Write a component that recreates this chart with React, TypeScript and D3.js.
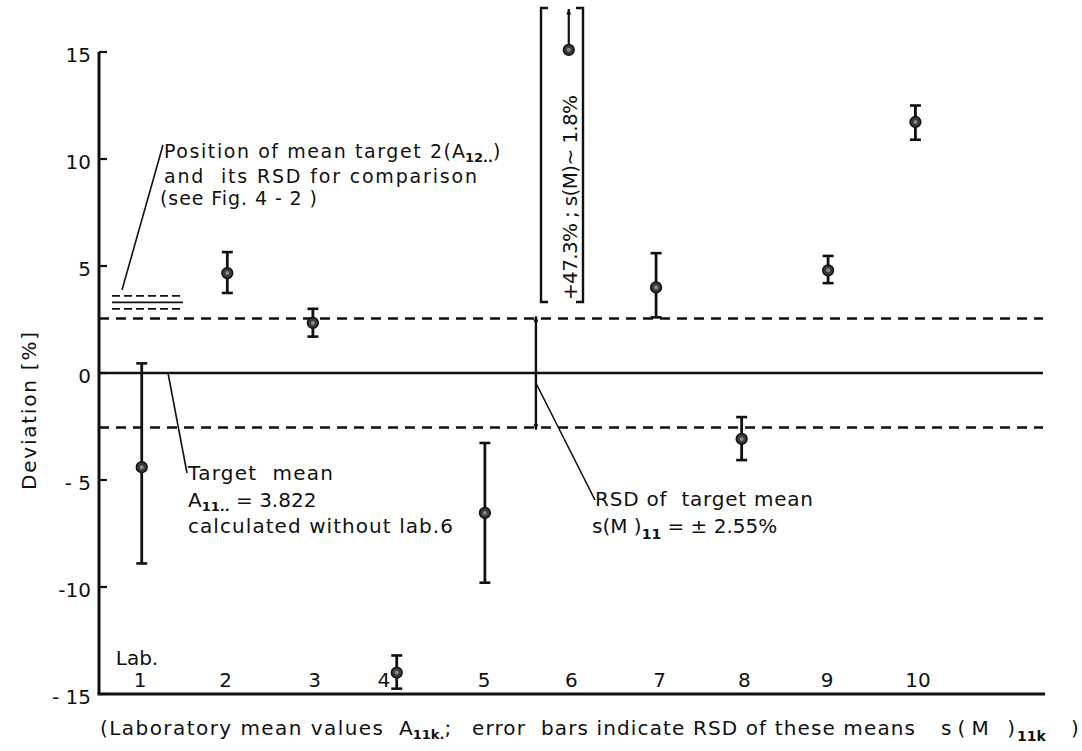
import React from "react";
import * as d3 from "d3";

// ---- data ----
const labNumbers = [1, 2, 3, 4, 5, 6, 7, 8, 9, 10];
const labLabelPos = [1, 1.99, 3.02, 3.82, 4.98, 5.99, 7.01, 7.99, 8.95, 10];
const pointLabs = [1, 2, 3, 4, 5, 7, 8, 9, 10];
const pointPos = [1.02, 2.01, 3.0, 3.97, 4.99, 6.97, 7.96, 8.96, 9.97];
const means = [-4.4, 4.67, 2.34, -14.0, -6.54, 4.0, -3.08, 4.8, 11.73];
const lows = [-8.9, 3.74, 1.7, -14.75, -9.8, 2.6, -4.07, 4.2, 10.9];
const highs = [0.45, 5.65, 3.0, -13.2, -3.27, 5.6, -2.06, 5.47, 12.5];
const yTicks = [15, 10, 5, 0, -5, -10, -15];
const yTickLabels = ["15", "10", "5", "0", "- 5", "-10", "- 15"];
const targetRSD = 2.55;
const target2Mean = 3.3;
const target2RSD = 0.3;
const lab6Pos = 5.58;
const lab6OutlierPos = 5.96;
const lab6OutlierShown = 15.1;

const W = 1082;
const H = 751;
const FONT = "'DejaVu Sans', Verdana, sans-serif";

export default function App() {
  const x = d3.scaleLinear().domain([1, 10]).range([140, 918]);
  const y = d3.scaleLinear().domain([-15, 15]).range([694, 52]);
  const x0 = 99;
  const axisRight = 1045;
  const lineRight = 1043;
  const ink = "#111";

  const pts = pointLabs.map((lab, i) => ({
    lab,
    px: x(pointPos[i]),
    m: y(means[i]),
    lo: y(lows[i]),
    hi: y(highs[i]),
  }));

  const l6 = x(lab6Pos);
  const ox = x(lab6OutlierPos);
  const oy = y(lab6OutlierShown);
  const sub = 13;

  return (
    <svg
      width={W}
      height={H}
      style={{ position: "absolute", left: 0, top: 0, background: "#fff" }}
      fontFamily={FONT}
    >
      <defs>
        <marker id="arrS" viewBox="0 0 10 10" refX="9" refY="5" markerWidth="11" markerHeight="6" orient="auto-start-reverse" markerUnits="userSpaceOnUse">
          <path d="M0,1 L10,5 L0,9 Z" fill={ink} />
        </marker>
      </defs>
      <rect x={0} y={0} width={W} height={H} fill="#fff" />

      {/* reference lines */}
      <line x1={x0} x2={lineRight} y1={y(0)} y2={y(0)} stroke={ink} strokeWidth={2.6} />
      <line x1={x0} x2={lineRight} y1={y(targetRSD)} y2={y(targetRSD)} stroke={ink} strokeWidth={2.6} strokeDasharray="10,7" />
      <line x1={x0} x2={lineRight} y1={y(-targetRSD)} y2={y(-targetRSD)} stroke={ink} strokeWidth={2.6} strokeDasharray="10,7" />

      {/* target 2 comparison lines */}
      <line x1={112} x2={183} y1={y(target2Mean + target2RSD)} y2={y(target2Mean + target2RSD)} stroke={ink} strokeWidth={1.8} strokeDasharray="8,4" />
      <line x1={112} x2={183} y1={y(target2Mean)} y2={y(target2Mean)} stroke={ink} strokeWidth={1.6} />
      <line x1={112} x2={183} y1={y(target2Mean - target2RSD)} y2={y(target2Mean - target2RSD)} stroke={ink} strokeWidth={1.8} strokeDasharray="8,4" />

      {/* axes */}
      <line x1={x0} x2={x0} y1={y(15)} y2={y(-15)} stroke={ink} strokeWidth={3} />
      <line x1={x0 - 1.5} x2={axisRight} y1={y(-15)} y2={y(-15)} stroke={ink} strokeWidth={3} />
      {yTicks.map((t, i) => (
        <g key={t}>
          <line x1={x0} x2={x0 + 8} y1={y(t)} y2={y(t)} stroke={ink} strokeWidth={2.2} />
          <text x={91} y={y(t) + 10} textAnchor="end" fontSize={20} fill={ink}>
            {yTickLabels[i]}
          </text>
        </g>
      ))}
      {labNumbers.map((n, i) => (
        <text key={n} x={x(labLabelPos[i])} y={687} textAnchor="middle" fontSize={20} fill={ink}>
          {n}
        </text>
      ))}
      <text x={137} y={665} textAnchor="middle" fontSize={20} fill={ink}>Lab.</text>

      <text transform={`translate(36,${411}) rotate(-90)`} textAnchor="middle" fontSize={20} fill={ink} textLength={158} lengthAdjust="spacing">
        Deviation [%]
      </text>

      {/* x axis caption */}
      <g fontSize={20} fill={ink}>
        <text x={100} y={735} textLength={283} lengthAdjust="spacing">(Laboratory mean values</text>
        <text x={399} y={735}>
          A<tspan fontSize={sub} fontWeight="bold" dy={4}>11k.</tspan><tspan dy={-4}>;</tspan>
        </text>
        <text x={472} y={735} textLength={443} lengthAdjust="spacing" xmlSpace="preserve">{"error  bars indicate RSD of these means"}</text>
        <text x={941} y={735} xmlSpace="preserve" textLength={74} lengthAdjust="spacing">{"s(M )"}</text>
        <text x={1017} y={741} fontSize={sub + 1} fontWeight="bold">11k</text>
        <text x={1071} y={735}>)</text>
      </g>

      {/* error bars and points */}
      {pts.map((p) => (
        <g key={p.lab}>
          <line x1={p.px} x2={p.px} y1={p.hi} y2={p.lo} stroke={ink} strokeWidth={2.8} />
          <line x1={p.px - 5.5} x2={p.px + 5.5} y1={p.hi} y2={p.hi} stroke={ink} strokeWidth={2.6} />
          <line x1={p.px - 5.5} x2={p.px + 5.5} y1={p.lo} y2={p.lo} stroke={ink} strokeWidth={2.6} />
          <circle cx={p.px} cy={p.m} r={5.4} fill="#3a3a3a" stroke={ink} strokeWidth={1.5} />
          <circle cx={p.px} cy={p.m} r={2} fill="#8a8a8a" />
        </g>
      ))}

      {/* lab 6: RSD double arrow at target mean */}
      <line x1={l6} x2={l6} y1={y(0)} y2={y(targetRSD) - 2} stroke={ink} strokeWidth={2.4} markerEnd="url(#arrS)" />
      <line x1={l6} x2={l6} y1={y(0)} y2={y(-targetRSD) + 2} stroke={ink} strokeWidth={2.4} markerEnd="url(#arrS)" />

      {/* lab 6 outlier in bracket */}
      <path d={`M548,8 L541,8 L541,302 L548,302`} fill="none" stroke={ink} strokeWidth={2.4} />
      <path d={`M576,8 L583,8 L583,302 L576,302`} fill="none" stroke={ink} strokeWidth={2.4} />
      <line x1={ox} x2={ox} y1={oy} y2={9} stroke={ink} strokeWidth={2.2} markerEnd="url(#arrS)" />
      <circle cx={ox} cy={oy} r={5.4} fill="#3a3a3a" stroke={ink} strokeWidth={1.5} />
      <circle cx={ox} cy={oy} r={2} fill="#8a8a8a" />
      <text transform={`translate(577,300) rotate(-90)`} fontSize={20} fill={ink} xmlSpace="preserve" textLength={205} lengthAdjust="spacing">
        {"+47.3% ; s(M)~ 1.8%"}
      </text>

      {/* annotation: target 2 */}
      <line x1={122} y1={290} x2={163} y2={145} stroke={ink} strokeWidth={1.6} />
      <g fontSize={19} fill={ink}>
        <text x={164} y={158} xmlSpace="preserve" textLength={287} lengthAdjust="spacing">{"Position of mean target 2("}</text>
        <text x={452} y={158} xmlSpace="preserve">
          {"A"}<tspan fontSize={sub} fontWeight="bold" dy={4}>12..</tspan><tspan dy={-4}>)</tspan>
        </text>
        <text x={164} y={183} xmlSpace="preserve" textLength={313} lengthAdjust="spacing">{"and  its RSD for comparison"}</text>
        <text x={160} y={205} xmlSpace="preserve" textLength={157} lengthAdjust="spacing">{"(see Fig. 4 - 2 )"}</text>
      </g>

      {/* annotation: target mean */}
      <line x1={168} y1={y(0)} x2={187} y2={473} stroke={ink} strokeWidth={1.6} />
      <g fontSize={20} fill={ink}>
        <text x={188} y={480} xmlSpace="preserve" textLength={145} lengthAdjust="spacing">{"Target  mean"}</text>
        <text x={188} y={507} xmlSpace="preserve">
          {"A"}<tspan fontSize={sub} fontWeight="bold" dy={4}>11..</tspan><tspan dy={-4}>{" = 3.822"}</tspan>
        </text>
        <text x={188} y={533} xmlSpace="preserve" textLength={265} lengthAdjust="spacing">{"calculated without lab.6"}</text>
      </g>

      {/* annotation: RSD of target mean */}
      <line x1={l6} y1={383} x2={595} y2={500} stroke={ink} strokeWidth={1.6} />
      <g fontSize={20} fill={ink}>
        <text x={595} y={506} xmlSpace="preserve" textLength={218} lengthAdjust="spacing">{"RSD of  target mean"}</text>
        <text x={592} y={533} xmlSpace="preserve">
          {"s(M )"}<tspan fontSize={sub + 1} fontWeight="bold" dy={6}>11</tspan><tspan dy={-6}>{" = ± 2.55%"}</tspan>
        </text>
      </g>
    </svg>
  );
}
